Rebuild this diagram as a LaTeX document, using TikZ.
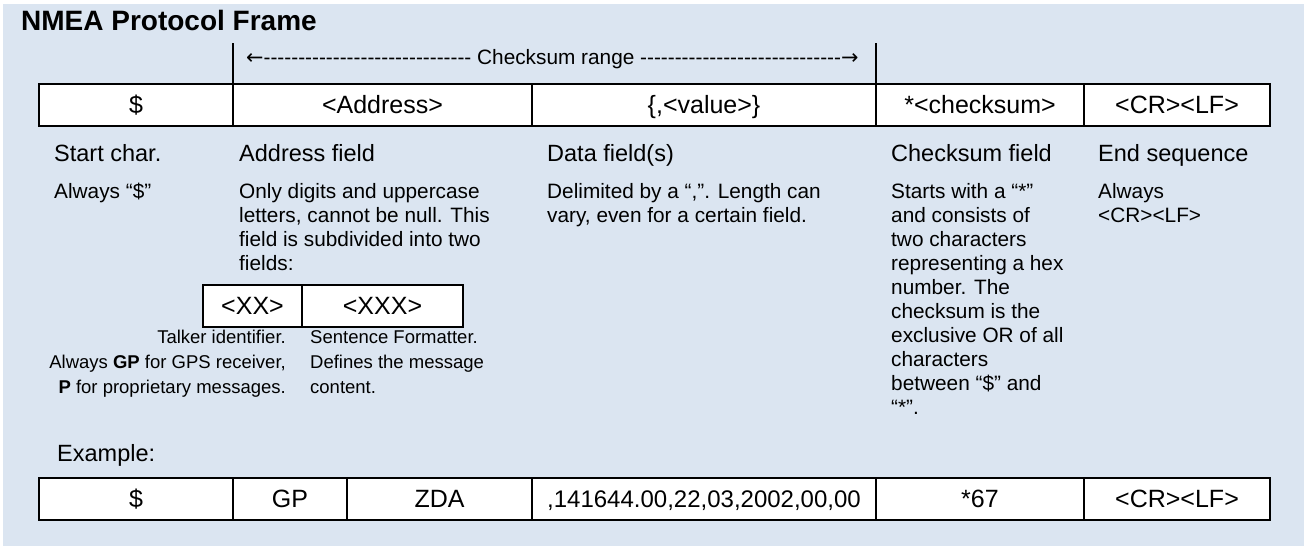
\documentclass[tikz,border=0pt]{standalone}
\usepackage{fontspec}
\setmainfont{Liberation Sans}
\newfontfamily\arrowfont{DejaVu Sans}
\definecolor{panel}{RGB}{219,229,241}
\newcommand\dashrun[1]{\foreach \k in {1,...,#1}{-}}

\begin{document}
\begin{tikzpicture}
[x=1pt,y=-1pt,
cell/.style={rectangle,draw=black,fill=white,line width=2.2pt,inner sep=0pt,outer sep=0pt,minimum height=42pt,font=\fontsize{25}{30}\selectfont,text height=17.9pt,text depth=0pt},
heading/.style={anchor=base west,inner sep=0pt,font=\fontsize{23.5}{28}\selectfont},
remark/.style={anchor=north west,align=left,inner sep=0pt,font=\fontsize{20.8}{24}\selectfont},
note/.style={anchor=north west,align=left,inner sep=0pt,font=\fontsize{18.5}{25}\selectfont},
marker/.style={line width=1.3pt}]

\useasboundingbox (0,0) rectangle (1305,546);
\fill[panel] (3,4) rectangle (1304,546);

\def \topRow {105}
\def \exRow {499}
\def \headLine {161.7}
\def \remarkTop {181.2}

% Title and checksum range
\node[anchor=base west,inner sep=0pt,font=\fontsize{28}{32}\selectfont\bfseries] (title) at (21,30) {NMEA Protocol Frame};
\node[anchor=base west,inner sep=0pt,font=\fontsize{20.8}{24}\selectfont] (range) at (246,64) {{\arrowfont ←}\dashrun{30} Checksum range \dashrun{29}{\arrowfont →}};

% Frame fields
\node[cell,minimum width=194pt] (start) at (136,\topRow) {\$};
\node[cell,minimum width=299pt] (addr) at (382.5,\topRow) {<Address>};
\node[cell,minimum width=344pt] (data) at (704,\topRow) {\{,<value>\}};
\node[cell,minimum width=208pt] (csum) at (980,\topRow) {*<checksum>};
\node[cell,minimum width=186pt] (endseq) at (1177,\topRow) {<CR><LF>};

\coordinate (lefttick) at (233,43);
\coordinate (righttick) at (876,43);
\draw[marker] (lefttick) -- (start.north east);
\draw[marker] (righttick) -- (csum.north west);

% Field descriptions
\node[heading] (starthead) at (54,\headLine) {Start char.};
\node[heading] (addrhead) at (239,\headLine) {Address field};
\node[heading] (datahead) at (547,\headLine) {Data field(s)};
\node[heading] (csumhead) at (891,\headLine) {Checksum field};
\node[heading] (endhead) at (1098,\headLine) {End sequence};

\node[remark] (startnote) at (54,\remarkTop) {\strut Always “\$”};
\node[remark] (addrnote) at (239,\remarkTop) {\strut Only digits and uppercase\\letters, cannot be null. This\\field is subdivided into two\\fields:};
\node[remark] (datanote) at (547,\remarkTop) {\strut Delimited by a “,”. Length can\\vary, even for a certain field.};
\node[remark] (csumnote) at (891,\remarkTop) {\strut Starts with a “*”\\and consists of\\two characters\\representing a hex\\number. The\\checksum is the\\exclusive OR of all\\characters\\between “\$” and\\“*”.};
\node[remark] (endnote) at (1098,\remarkTop) {\strut Always\\<CR><LF>};

% Address subfields
\node[cell,minimum width=99pt] (xx) at (252.5,306) {<XX>};
\node[cell,minimum width=161pt] (xxx) at (382.5,306) {<XXX>};
\node[note,anchor=north east,align=right] (talker) at (286,326.1) {\strut Talker identifier.\\Always \textbf{GP} for GPS receiver,\\\textbf{P} for proprietary messages.};
\node[note] (formatter) at (310,326.1) {\strut Sentence Formatter.\\Defines the message\\content.};

% Example sentence
\node[heading] (example) at (57,461) {Example:};
\node[cell,minimum width=194pt] (exstart) at (136,\exRow) {\$};
\node[cell,minimum width=114pt] (extalker) at (290,\exRow) {GP};
\node[cell,minimum width=185pt] (exformat) at (439.5,\exRow) {ZDA};
\node[cell,minimum width=344pt,font=\fontsize{24}{30}\selectfont] (exdata) at (704,\exRow) {,141644.00,22,03,2002,00,00};
\node[cell,minimum width=208pt] (excsum) at (980,\exRow) {*67};
\node[cell,minimum width=186pt] (exend) at (1177,\exRow) {<CR><LF>};
\end{tikzpicture}
\end{document}
